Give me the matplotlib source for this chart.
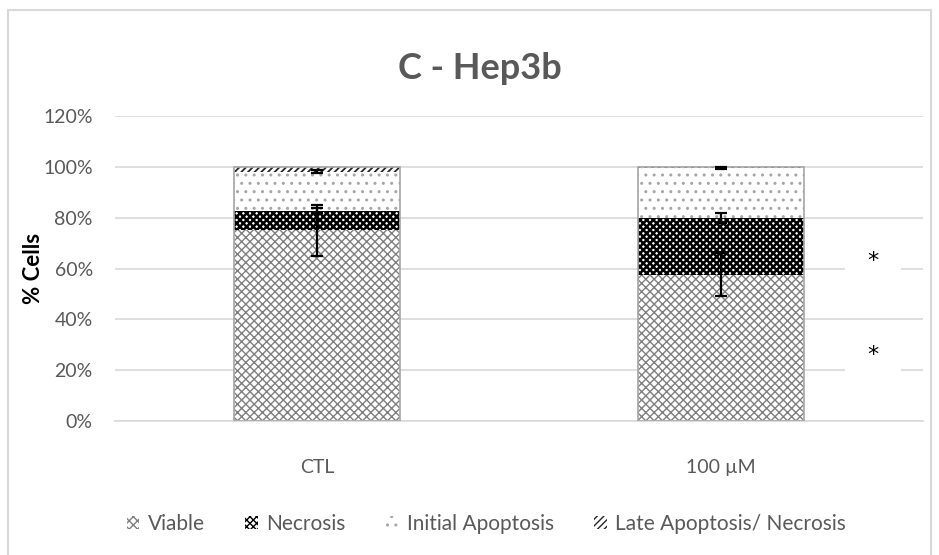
import matplotlib
matplotlib.use("Agg")
import matplotlib.pyplot as plt
from matplotlib.patches import Rectangle, Patch
from matplotlib.ticker import FuncFormatter
import numpy as np

categories = ["CTL", "100 µM"]
series_names = ["Viable", "Necrosis", "Initial Apoptosis", "Late Apoptosis/ Necrosis"]
viable = [75.0, 57.5]
necrosis = [7.7, 22.3]
initial_apoptosis = [15.4, 19.8]
late_apoptosis = [1.9, 0.4]
err_viable = [10.0, 8.5]
err_necrosis = [1.0, 2.0]
err_initial = [0.7, 0.5]
yticks = [0, 20, 40, 60, 80, 100, 120]
asterisk_y = [63, 26]
title = "C - Hep3b"
ylabel = "% Cells"

FONT = 'Lato'
plt.rcParams['hatch.linewidth'] = 1.0
fig = plt.figure(figsize=(9.39, 5.55), dpi=100)
ax = fig.add_axes([0.1225, 0.2414, 0.8605, 0.5496])

x = np.arange(len(categories))
w = 0.41
styles = [
    dict(hatch='xxxx', fc='white', ec='#7f7f7f', hlw=1.0),
    dict(hatch='XXXXX', fc='white', ec='black', hlw=1.8),
    dict(hatch='..', fc='white', ec='#a6a6a6', hlw=1.0),
    dict(hatch='/////', fc='white', ec='#262626', hlw=1.3),
]
data = [viable, necrosis, initial_apoptosis, late_apoptosis]
errs = [err_viable, err_necrosis, err_initial, None]
bottom = np.zeros(len(categories))
handles = []
for name, vals, st, er in zip(series_names, data, styles, errs):
    vals = np.array(vals)
    with plt.rc_context({'hatch.linewidth': st['hlw']}):
        ax.bar(x, vals, w, bottom=bottom, color=st['fc'], hatch=st['hatch'],
               edgecolor=st['ec'], linewidth=0, zorder=2)
        handles.append(Patch(facecolor='white', hatch=st['hatch'], edgecolor=st['ec'],
                             linewidth=0, label=name))
    top = bottom + vals
    if er is not None:
        ax.errorbar(x, top, yerr=er, fmt='none', ecolor='black', elinewidth=1.6,
                    capsize=4.5, capthick=1.6, zorder=4)
    bottom = top

# light gray outline around each stacked bar
for xi, tot in zip(x, bottom):
    ax.add_patch(Rectangle((xi - w / 2, 0), w, tot, fill=False, ec='#a6a6a6', lw=1.2, zorder=3))

ax.set_xlim(-0.5, 1.5)
ax.set_ylim(0, 120)
ax.set_yticks(yticks)
ax.yaxis.set_major_formatter(FuncFormatter(lambda v, p: f"{int(v)}%"))
ax.set_xticks(x)
ax.set_xticklabels(categories)
ax.tick_params(axis='y', length=0, labelsize=14, colors='#595959', pad=16)
ax.tick_params(axis='x', length=0, labelsize=14, colors='#595959', pad=27)
for lab in ax.get_yticklabels() + ax.get_xticklabels():
    lab.set_family(FONT)
    lab.set_color('#595959')
ax.grid(axis='y', color='#d9d9d9', lw=1.2, zorder=0)
for s in ['top', 'right', 'left']:
    ax.spines[s].set_visible(False)
ax.spines['bottom'].set_color('#d9d9d9')
ax.spines['bottom'].set_linewidth(1.2)

ax.set_ylabel(ylabel, fontsize=16, fontweight='bold', family=FONT, color='black')
ax.yaxis.set_label_coords(-0.088, 0.5)

for yv in asterisk_y:
    ax.text(1.376, yv, "*", ha='center', va='center', fontsize=16, color='black',
            family='DejaVu Sans',
            bbox=dict(facecolor='white', edgecolor='none', boxstyle='square,pad=1.0'), zorder=5)

fig.text(0.511, 0.877, title, ha='center', va='center', fontsize=26, fontweight='bold',
         color='#595959', family=FONT)

fig.legend(handles=handles, loc='center', bbox_to_anchor=(0.518, 0.056), ncol=4, frameon=False,
           handlelength=0.6, handleheight=0.6, handletextpad=0.4, columnspacing=1.95,
           prop=dict(family=FONT, size=15), labelcolor='#595959')

fig.patches.append(Rectangle((8 / 939, -0.05), (931 - 8) / 939, 1.05 - 10 / 555,
                             transform=fig.transFigure, fill=False, ec='#d9d9d9', lw=1.5))

fig.savefig("out.png", dpi=100, facecolor='white')
